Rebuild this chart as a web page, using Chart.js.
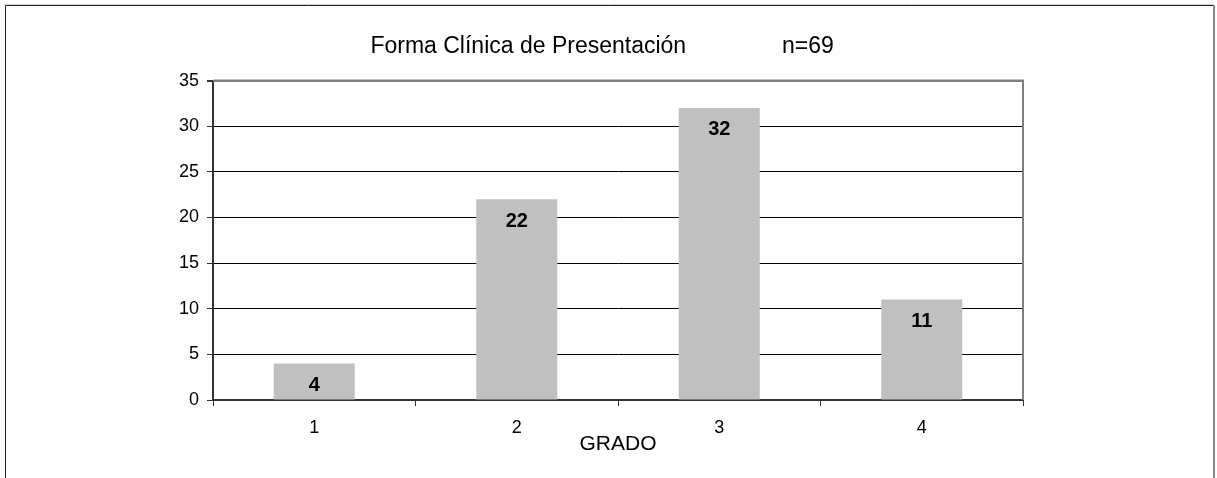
<!DOCTYPE html>
<html>
<head>
<meta charset="utf-8">
<script src="https://cdn.jsdelivr.net/npm/chart.js@4.4.1/dist/chart.umd.min.js"></script>
<style>
  html, body { margin: 0; padding: 0; background: #ffffff; }
  #wrap { width: 1217px; height: 478px; position: relative; }
</style>
</head>
<body>
<div id="wrap"><canvas id="c" width="1217" height="478"></canvas></div>
<script>
const categories = ['1', '2', '3', '4'];
const values = [4, 22, 32, 11];
const yTicks = [0, 5, 10, 15, 20, 25, 30, 35];
const titleText = 'Forma Clínica de Presentación               n=69  ';
const xTitle = 'GRADO';

const FONT = "'Liberation Sans', Arial, sans-serif";

const framePlugin = {
  id: 'frame',
  beforeDraw(chart) {
    const ctx = chart.ctx;
    ctx.save();
    ctx.fillStyle = '#ffffff';
    ctx.fillRect(0, 0, chart.width, chart.height);
    ctx.lineWidth = 1;
    ctx.strokeStyle = '#d0d0d0';
    ctx.beginPath(); ctx.moveTo(4, 4.5); ctx.lineTo(1214, 4.5); ctx.stroke();
    ctx.strokeStyle = '#222222';
    ctx.beginPath();
    ctx.moveTo(5.5, 478); ctx.lineTo(5.5, 5.5); ctx.lineTo(1213, 5.5);
    ctx.stroke();
    ctx.strokeStyle = '#888888';
    ctx.lineWidth = 2;
    ctx.beginPath(); ctx.moveTo(1214, 5); ctx.lineTo(1214, 478); ctx.stroke();
    ctx.restore();
  },
  afterDatasetsDraw(chart) {
    const ctx = chart.ctx;
    const a = chart.chartArea;
    ctx.save();
    ctx.strokeStyle = '#808080';
    ctx.lineWidth = 2;
    ctx.beginPath();
    ctx.moveTo(a.left, a.top); ctx.lineTo(a.right, a.top); ctx.lineTo(a.right, a.bottom);
    ctx.stroke();
    // value labels
    const meta = chart.getDatasetMeta(0);
    ctx.fillStyle = '#000000';
    ctx.font = "bold 20px " + FONT;
    ctx.textAlign = 'center';
    ctx.textBaseline = 'middle';
    meta.data.forEach((bar, i) => {
      ctx.fillText(String(values[i]), bar.x, bar.y + 22);
    });
    ctx.restore();
  }
};

new Chart(document.getElementById('c'), {
  type: 'bar',
  data: {
    labels: categories,
    datasets: [{
      data: values,
      backgroundColor: '#c0c0c0',
      borderWidth: 0,
      categoryPercentage: 1.0,
      barPercentage: 0.4
    }]
  },
  options: {
    responsive: false,
    animation: false,
    devicePixelRatio: 1,
    layout: { padding: { left: 0, right: 0, top: 0, bottom: 0 } },
    plugins: {
      legend: { display: false },
      tooltip: { enabled: false },
      title: {
        display: true,
        text: titleText,
        color: '#000000',
        font: { family: FONT, size: 23, weight: 'normal', lineHeight: 1.2 },
        padding: { top: 33, bottom: 20 }
      }
    },
    scales: {
      x: {
        offset: true,
        grid: { display: true, drawOnChartArea: false, offset: true, tickLength: 6, tickColor: '#333333', tickWidth: 1 },
        border: { display: true, color: '#333333', width: 2 },
        ticks: { color: '#000000', font: { family: FONT, size: 18 }, padding: 11 },
        title: { display: true, text: xTitle, color: '#000000', font: { family: FONT, size: 21 }, padding: { top: 0, bottom: 21 } },
        afterFit(scale) { scale.height = 78; }
      },
      y: {
        min: 0,
        max: 35,
        afterBuildTicks(scale) { scale.ticks = yTicks.map(v => ({ value: v })); },
        grid: {
          color: (c) => (c.tick && c.tick.value === 35) ? '#808080' : '#000000',
          lineWidth: (c) => (c.tick && c.tick.value === 35) ? 2 : 1,
          tickLength: 6,
          tickColor: '#333333'
        },
        border: { display: true, color: '#333333', width: 2 },
        ticks: { color: '#000000', font: { family: FONT, size: 18 }, padding: 8 },
        afterFit(scale) { scale.width = 213; }
      },
      yRightSpace: {
        type: 'linear',
        position: 'right',
        display: true,
        grid: { display: false, drawTicks: false },
        border: { display: false },
        ticks: { display: false },
        afterFit(scale) { scale.width = 194; }
      }
    }
  },
  plugins: [framePlugin]
});
</script>
</body>
</html>
